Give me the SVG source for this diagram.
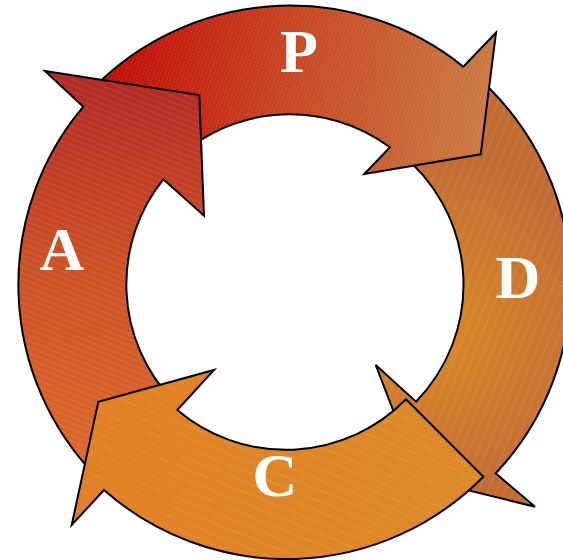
<svg xmlns="http://www.w3.org/2000/svg" xmlns:xlink="http://www.w3.org/1999/xlink" width="563" height="560" viewBox="0 0 563 560">
  <style>
    .outline { fill: none; stroke: #000; stroke-width: 2; stroke-linejoin: miter; }
    .tex { stroke: none; }
    .lbl { font-family: "Liberation Serif", "DejaVu Serif", serif; font-weight: bold; font-size: 62px; fill: #fff; text-anchor: middle; }
  </style>
  <defs>
    <linearGradient id="gP" gradientUnits="userSpaceOnUse" x1="90" y1="60" x2="495" y2="120">
      <stop offset="0" stop-color="#c00400"/>
      <stop offset="0.5" stop-color="#c84622"/>
      <stop offset="1" stop-color="#c97c40"/>
    </linearGradient>
    <linearGradient id="gA" gradientUnits="userSpaceOnUse" x1="0" y1="80" x2="0" y2="480">
      <stop offset="0" stop-color="#b22a24"/>
      <stop offset="0.45" stop-color="#cc4f26"/>
      <stop offset="1" stop-color="#de6c2a"/>
    </linearGradient>
    <radialGradient id="gD" gradientUnits="userSpaceOnUse" cx="430" cy="330" r="170">
      <stop offset="0" stop-color="#dc8a26"/>
      <stop offset="1" stop-color="#c26c34"/>
    </radialGradient>
    <linearGradient id="gC" gradientUnits="userSpaceOnUse" x1="80" y1="0" x2="480" y2="0">
      <stop offset="0" stop-color="#e27f25"/>
      <stop offset="1" stop-color="#dc8b28"/>
    </linearGradient>
    <pattern id="tP" patternUnits="userSpaceOnUse" width="3.5" height="10" patternTransform="rotate(20)">
      <line x1="1.75" y1="0" x2="1.75" y2="10" stroke="#fff" stroke-opacity="0.28" stroke-width="0.6" stroke-dasharray="2 1.3"/>
    </pattern>
    <pattern id="tA" patternUnits="userSpaceOnUse" width="10" height="5.5" patternTransform="rotate(22)">
      <line x1="0" y1="2.75" x2="10" y2="2.75" stroke="#fff" stroke-opacity="0.28" stroke-width="0.6" stroke-dasharray="2 1.3"/>
    </pattern>
    <pattern id="tD" patternUnits="userSpaceOnUse" width="8" height="10" patternTransform="rotate(22)">
      <line x1="4" y1="0" x2="4" y2="10" stroke="#fff" stroke-opacity="0.3" stroke-width="0.6" stroke-dasharray="2 1.3"/>
    </pattern>
    <pattern id="tC" patternUnits="userSpaceOnUse" width="10" height="10" patternTransform="rotate(22)">
      <line x1="0" y1="5" x2="10" y2="5" stroke="#fff" stroke-opacity="0.3" stroke-width="0.6" stroke-dasharray="2 1.3"/>
    </pattern>
    <path id="pD" d="M468.4,69.6 A276,276 0 0 1 495.7,473.3 L535,506.7 L419.3,478.4 L375.7,365 L416,401.7 A168,168 0 0 0 399,152.3 Z"/>
    <path id="pP" d="M85,97 A276,276 0 0 1 463.3,66.7 L496,32.7 L480.7,154.3 L364.3,174 L390,147.3 A168,168 0 0 0 165.7,169.1 Z"/>
    <path id="pA" d="M95.8,476.2 A276,276 0 0 1 83.3,106.7 L45,71 L199.3,95 L204,215.7 L163.3,179.3 A168,168 0 0 0 172.2,399.8 Z"/>
    <path id="pC" d="M406,399.3 L483.3,476.7 A276,276 0 0 1 104,490 L71.7,525 L98.3,401.7 L214,370 L177.3,410 A168,168 0 0 0 406,399.3 Z"/>
  </defs>

  <g id="connectors"/>

  <g id="do">
    <use xlink:href="#pD" fill="url(#gD)"/>
    <use xlink:href="#pD" class="tex" fill="url(#tD)"/>
    <use xlink:href="#pD" class="outline"/>
    <text class="lbl" x="518" y="298">D</text>
  </g>

  <g id="plan">
    <use xlink:href="#pP" fill="url(#gP)"/>
    <use xlink:href="#pP" class="tex" fill="url(#tP)"/>
    <use xlink:href="#pP" class="outline"/>
    <text class="lbl" x="299" y="72">P</text>
  </g>

  <g id="act">
    <use xlink:href="#pA" fill="url(#gA)"/>
    <use xlink:href="#pA" class="tex" fill="url(#tA)"/>
    <use xlink:href="#pA" class="outline"/>
    <text class="lbl" x="62" y="270">A</text>
  </g>

  <g id="check">
    <use xlink:href="#pC" fill="url(#gC)"/>
    <use xlink:href="#pC" class="tex" fill="url(#tC)"/>
    <use xlink:href="#pC" class="outline"/>
    <text class="lbl" x="275" y="496">C</text>
  </g>
</svg>
